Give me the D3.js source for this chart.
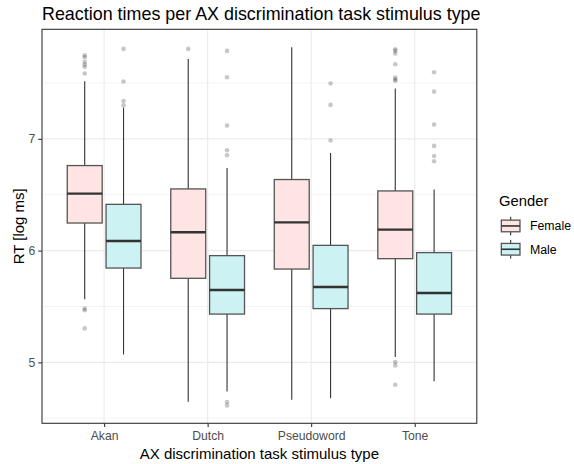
<!DOCTYPE html>
<html>
<head>
<meta charset="utf-8">
<script src="https://cdn.jsdelivr.net/npm/d3@7"></script>
<style>
  html, body { margin: 0; padding: 0; background: #fff; }
  svg { display: block; font-family: "Liberation Sans", Arial, sans-serif; }
</style>
</head>
<body>
<svg id="chart" width="574" height="464"></svg>
<script>
// ---- data ----
const categories = ["Akan", "Dutch", "Pseudoword", "Tone"];
const genders = ["Female", "Male"];
const yTicks = [5, 6, 7];
const yMinorTicks = [4.5, 5.5, 6.5, 7.5];

const femaleLower  = [5.564, 4.648, 4.666, 5.047];
const femaleQ1     = [6.247, 5.752, 5.835, 5.928];
const femaleMedian = [6.510, 6.164, 6.253, 6.188];
const femaleQ3     = [6.761, 6.552, 6.636, 6.534];
const femaleUpper  = [7.516, 7.715, 7.820, 7.450];
const femaleOutliers = [
  [7.748, 7.730, 7.690, 7.665, 7.645, 7.585, 5.481, 5.466, 5.304],
  [7.805],
  [],
  [7.531, 7.549, 7.520, 7.668, 7.764, 7.787, 7.802, 5.003, 4.973, 4.800]
];

const maleLower  = [5.071, 4.740, 4.678, 4.832];
const maleQ1     = [5.844, 5.432, 5.481, 5.432];
const maleMedian = [6.086, 5.647, 5.674, 5.620];
const maleQ3     = [6.414, 5.955, 6.047, 5.982];
const maleUpper  = [7.280, 6.740, 6.874, 6.546];
const maleOutliers = [
  [7.300, 7.339, 7.513, 7.805],
  [7.787, 7.551, 7.119, 6.898, 6.853, 4.645, 4.615],
  [6.985, 7.304, 7.495],
  [7.596, 7.423, 7.128, 6.937, 6.847, 6.800]
];

const fillColors = ["#FEE4E2", "#CCF2F3"];

// ---- build box table ----
const stats = [
  {lower: femaleLower, q1: femaleQ1, med: femaleMedian, q3: femaleQ3, upper: femaleUpper, out: femaleOutliers},
  {lower: maleLower, q1: maleQ1, med: maleMedian, q3: maleQ3, upper: maleUpper, out: maleOutliers}
];
const boxes = [];
categories.forEach((c, i) => {
  genders.forEach((g, j) => {
    const s = stats[j];
    boxes.push({cat: c, gender: g, gi: j, lower: s.lower[i], q1: s.q1[i], med: s.med[i], q3: s.q3[i], upper: s.upper[i], out: s.out[i]});
  });
});

// ---- layout ----
const panel = {left: 42, top: 29.3, right: 476.8, bottom: 423.3};
const svg = d3.select("#chart");

const allVals = boxes.flatMap(b => [b.lower, b.upper, ...b.out]);
const [vmin, vmax] = d3.extent(allVals);
const pad = (vmax - vmin) * 0.05;
const y = d3.scaleLinear().domain([vmin - pad, vmax + pad]).range([panel.bottom, panel.top]);

// ggplot discrete expansion: 0.6 units each side of 4 categories
const x = d3.scalePoint().domain(categories)
  .range([panel.left, panel.right]).padding(0.6 / 1.0 * 1.0);
const step = (panel.right - panel.left) / 4.2;
x.range([panel.left + 0.6 * step, panel.right - 0.6 * step]).padding(0);
const xc = c => x(c);
const dodge = d3.scaleBand().domain(genders).range([-0.375, 0.375]).padding(0);
const boxW = 0.375 * 0.9 * step;
const boxCenter = b => xc(b.cat) + (dodge(b.gender) + dodge.bandwidth() / 2) * step;

// ---- grid ----
const grid = svg.append("g");
grid.selectAll(".minor").data(yMinorTicks).join("line")
  .attr("x1", panel.left).attr("x2", panel.right)
  .attr("y1", d => y(d)).attr("y2", d => y(d))
  .attr("stroke", "#EBEBEB").attr("stroke-width", 0.6);
grid.selectAll(".majorY").data(yTicks).join("line")
  .attr("x1", panel.left).attr("x2", panel.right)
  .attr("y1", d => y(d)).attr("y2", d => y(d))
  .attr("stroke", "#EBEBEB").attr("stroke-width", 1.1);
grid.selectAll(".majorX").data(categories).join("line")
  .attr("x1", d => xc(d)).attr("x2", d => xc(d))
  .attr("y1", panel.top).attr("y2", panel.bottom)
  .attr("stroke", "#EBEBEB").attr("stroke-width", 1.1);

// ---- boxes ----
const bg = svg.append("g").selectAll("g").data(boxes).join("g");
bg.append("line")
  .attr("x1", d => boxCenter(d)).attr("x2", d => boxCenter(d))
  .attr("y1", d => y(d.upper)).attr("y2", d => y(d.q3))
  .attr("stroke", "#333").attr("stroke-width", 1.1);
bg.append("line")
  .attr("x1", d => boxCenter(d)).attr("x2", d => boxCenter(d))
  .attr("y1", d => y(d.q1)).attr("y2", d => y(d.lower))
  .attr("stroke", "#333").attr("stroke-width", 1.1);
bg.append("rect")
  .attr("x", d => boxCenter(d) - boxW / 2).attr("width", boxW)
  .attr("y", d => y(d.q3)).attr("height", d => y(d.q1) - y(d.q3))
  .attr("fill", d => fillColors[d.gi])
  .attr("stroke", "#555").attr("stroke-width", 1.3);
bg.append("line")
  .attr("x1", d => boxCenter(d) - boxW / 2).attr("x2", d => boxCenter(d) + boxW / 2)
  .attr("y1", d => y(d.med)).attr("y2", d => y(d.med))
  .attr("stroke", "#333").attr("stroke-width", 2.4);
bg.selectAll("circle").data(d => d.out.map(v => ({v, cx: boxCenter(d)}))).join("circle")
  .attr("cx", d => d.cx).attr("cy", d => y(d.v)).attr("r", 2.3)
  .attr("fill", "#000").attr("fill-opacity", 0.22);

// ---- panel border ----
svg.append("rect")
  .attr("x", panel.left).attr("y", panel.top)
  .attr("width", panel.right - panel.left).attr("height", panel.bottom - panel.top)
  .attr("fill", "none").attr("stroke", "#333").attr("stroke-width", 1.1);

// ---- axes ----
const yAxis = svg.append("g").attr("transform", `translate(${panel.left},0)`)
  .call(d3.axisLeft(y).tickValues(yTicks).tickSize(3.7).tickPadding(3).tickFormat(d3.format("d")));
const xAxis = svg.append("g").attr("transform", `translate(0,${panel.bottom})`)
  .call(d3.axisBottom(x).tickSize(3.7).tickPadding(3));
[yAxis, xAxis].forEach(a => {
  a.select(".domain").remove();
  a.selectAll(".tick line").attr("stroke", "#333").attr("stroke-width", 1.1);
  a.selectAll(".tick text").attr("fill", "#4D4D4D").style("font-size", "12.2px")
    .style("font-family", "'Liberation Sans', Arial, sans-serif");
});
xAxis.selectAll(".tick text").attr("dy", "0.82em");

// ---- titles ----
svg.append("text").attr("x", panel.left).attr("y", 19.5)
  .style("font-size", "17.9px").attr("fill", "#000")
  .text("Reaction times per AX discrimination task stimulus type");
svg.append("text").attr("x", (panel.left + panel.right) / 2).attr("y", 458.5)
  .attr("text-anchor", "middle").style("font-size", "15px").attr("fill", "#000")
  .text("AX discrimination task stimulus type");
svg.append("text")
  .attr("transform", `translate(23.5,${(panel.top + panel.bottom) / 2}) rotate(-90)`)
  .attr("text-anchor", "middle").style("font-size", "15px").attr("fill", "#000")
  .text("RT [log ms]");

// ---- legend ----
const leg = svg.append("g").attr("transform", "translate(499,0)");
leg.append("text").attr("x", 0).attr("y", 206).style("font-size", "14.8px").attr("fill", "#000").text("Gender");
const keySize = 23.3;
const keyTop = 214.3;
const keys = leg.selectAll(".key").data(genders).join("g")
  .attr("transform", (d, i) => `translate(0,${keyTop + i * keySize})`);
keys.append("line").attr("x1", keySize / 2).attr("x2", keySize / 2)
  .attr("y1", keySize * 0.1).attr("y2", keySize * 0.9)
  .attr("stroke", "#333").attr("stroke-width", 1.1);
keys.append("rect").attr("x", keySize * 0.1).attr("width", keySize * 0.8)
  .attr("y", keySize * 0.25).attr("height", keySize * 0.5)
  .attr("fill", (d, i) => fillColors[i]).attr("stroke", "#555").attr("stroke-width", 1.3);
keys.append("line").attr("x1", keySize * 0.1).attr("x2", keySize * 0.9)
  .attr("y1", keySize / 2).attr("y2", keySize / 2)
  .attr("stroke", "#333").attr("stroke-width", 1.6);
keys.append("text").attr("x", 31).attr("y", keySize / 2).attr("dy", "0.36em")
  .style("font-size", "12.3px").attr("fill", "#000").text(d => d);
</script>
</body>
</html>
